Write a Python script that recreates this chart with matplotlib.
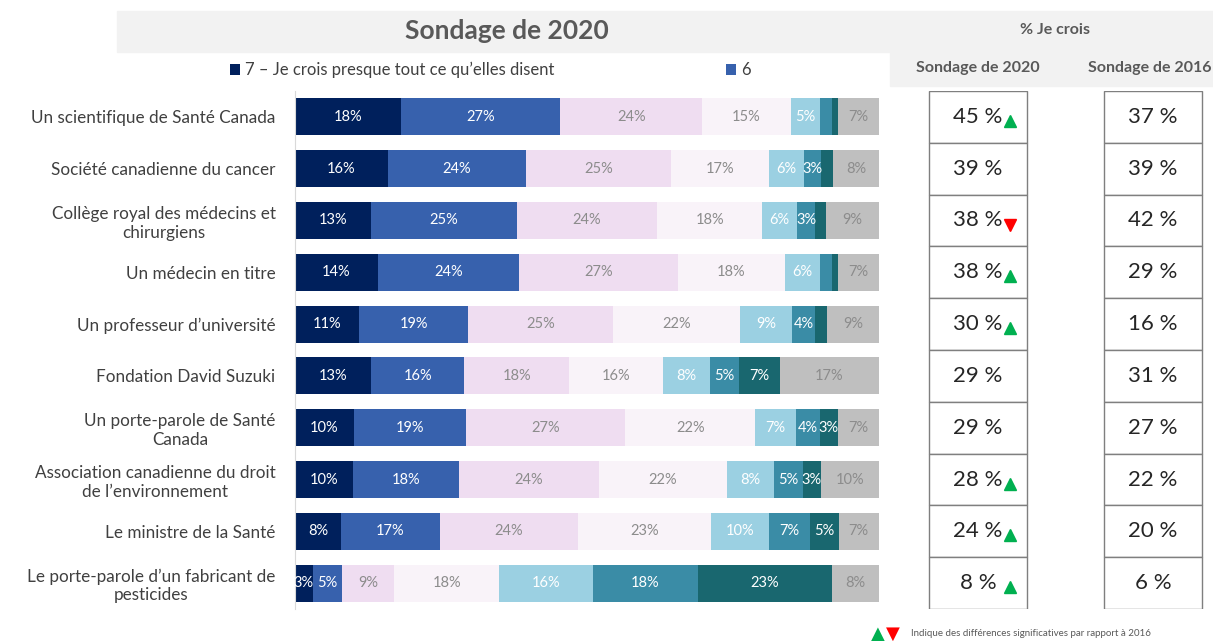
import numpy as np
import matplotlib
matplotlib.use('Agg')
import matplotlib.pyplot as plt
from matplotlib.patches import Rectangle

plt.rcParams['font.family'] = ['Lato', 'DejaVu Sans']

# données
categories = [
    'Un scientifique de Santé Canada',
    'Société canadienne du cancer',
    'Collège royal des médecins et\nchirurgiens',
    'Un médecin en titre',
    'Un professeur d\u2019université',
    'Fondation David Suzuki',
    'Un porte-parole de Santé\nCanada',
    'Association canadienne du droit\nde l\u2019environnement',
    'Le ministre de la Santé',
    'Le porte-parole d\u2019un fabricant de\npesticides',
]
series_names = ['7 \u2013 Je crois presque tout ce qu\u2019elles disent', '6', '5', '4', '3', '2',
                '1', 'Ne sait pas']
s7 = [18, 16, 13, 14, 11, 13, 10, 10, 8, 3]
s6 = [27, 24, 25, 24, 19, 16, 19, 18, 17, 5]
s5 = [24, 25, 24, 27, 25, 18, 27, 24, 24, 9]
s4 = [15, 17, 18, 18, 22, 16, 22, 22, 23, 18]
s3 = [5, 6, 6, 6, 9, 8, 7, 8, 10, 16]
s2 = [2, 3, 3, 2, 4, 5, 4, 5, 7, 18]
s1 = [1, 2, 2, 1, 2, 7, 3, 3, 5, 23]
nsp = [7, 8, 9, 7, 9, 17, 7, 10, 7, 8]

je_crois_2020 = [45, 39, 38, 38, 30, 29, 29, 28, 24, 8]
je_crois_2016 = [37, 39, 42, 29, 16, 31, 27, 22, 20, 6]
signif = ['up', '', 'down', 'up', 'up', '', '', 'up', 'up', 'up']

colors = ['#00205c', '#3761ad', '#efddf1', '#f9f3f9', '#9bd0e2', '#3a8ca6', '#19676f', '#bfbfbf']
text_colors = ['white', 'white', '#8c8c8c', '#8c8c8c', 'white', 'white', 'white', '#8c8c8c']

W, H = 1213, 641
fig = plt.figure(figsize=(W / 100, H / 100), dpi=100)

# bandeaux gris d'en-tête
fig.patches.append(Rectangle((117 / W, 1 - 52 / H), (W - 117) / W, 41 / H,
                             transform=fig.transFigure, color='#f2f2f2', zorder=0))
fig.patches.append(Rectangle((890 / W, 1 - 86 / H), (W - 890) / W, 35 / H,
                             transform=fig.transFigure, color='#f2f2f2', zorder=0))

top, bot = 91, 609
ax = fig.add_axes([295 / W, 1 - bot / H, 584 / W, (bot - top) / H])
data = np.array([s7, s6, s5, s4, s3, s2, s1, nsp], dtype=float)
totals = data.sum(axis=0)
y = np.arange(len(categories))
left = np.zeros(len(categories))
handles = []
for k in range(len(data)):
    widths = data[k] / totals * 100
    bars = ax.barh(y, widths, left=left, height=0.715, color=colors[k], label=series_names[k])
    handles.append(bars)
    for i, b in enumerate(bars):
        if data[k][i] >= 3:
            ax.text(left[i] + widths[i] / 2, y[i], f'{int(data[k][i])}%', ha='center', va='center',
                    fontsize=10.5, color=text_colors[k])
    left += widths

ax.set_xlim(0, 100)
ax.set_ylim(len(categories) - 0.5, -0.5)
ax.set_yticks(y)
ax.set_yticklabels(categories, fontsize=12.3, color='#404040')
for lab in ax.get_yticklabels():
    lab.set_multialignment('center')
ax.tick_params(axis='y', length=0, pad=14)
ax.set_xticks([])
for sp in ['top', 'right', 'bottom']:
    ax.spines[sp].set_visible(False)
ax.spines['left'].set_color('#d9d9d9')

fig.text(507 / W, 1 - 31 / H, 'Sondage de 2020', ha='center', va='center', fontsize=19,
         fontweight='bold', color='#595959')

fig.legend(handles[:2], series_names[:2], loc='center left', bbox_to_anchor=(215 / W, 1 - 70 / H),
           ncol=2, frameon=False, fontsize=12, handlelength=0.6, handleheight=0.6,
           handletextpad=0.3, columnspacing=10.3, labelcolor='#404040')

# tableau % Je crois
tx = fig.add_axes([890 / W, 1 - bot / H, (W - 890) / W, (bot - top) / H])
tx.set_xlim(0, 1)
tx.set_ylim(len(categories) - 0.5, -0.5)
tx.axis('off')
c20, c16, bw = (978 - 890) / 323, (1153 - 890) / 323, 98 / 323
for i in range(len(categories)):
    for cx in (c20, c16):
        tx.add_patch(Rectangle((cx - bw / 2, i - 0.5), bw, 1, facecolor='white',
                               edgecolor='#7f7f7f', lw=1))
    tx.text(c20, i, f'{je_crois_2020[i]} %', ha='center', va='center', fontsize=16, color='#262626')
    tx.text(c16, i, f'{je_crois_2016[i]} %', ha='center', va='center', fontsize=16, color='#262626')
    if signif[i] == 'up':
        tx.plot(c20 + 0.1, i + 0.08, marker='^', color='#00b050', ms=8, ls='none')
    elif signif[i] == 'down':
        tx.plot(c20 + 0.1, i + 0.08, marker='v', color='#ff0000', ms=8, ls='none')

fig.text(1055 / W, 1 - 30 / H, '% Je crois', ha='center', va='center', fontsize=11.5,
         fontweight='bold', color='#595959')
fig.text(978 / W, 1 - 68 / H, 'Sondage de 2020', ha='center', va='center', fontsize=11.5,
         fontweight='bold', color='#595959')
fig.text(1088 / W, 1 - 68 / H, 'Sondage de 2016', ha='left', va='center', fontsize=11.5,
         fontweight='bold', color='#595959')

# note
fig.text(878 / W, 1 - 634 / H, '\u25b2', ha='center', va='center', fontsize=13, color='#00b050',
         family=['DejaVu Sans'])
fig.text(893 / W, 1 - 634 / H, '\u25bc', ha='center', va='center', fontsize=13, color='#ff0000',
         family=['DejaVu Sans'])
fig.text(911 / W, 1 - 634 / H, 'Indique des différences significatives par rapport à 2016',
         ha='left', va='center', fontsize=7, color='#595959')

fig.savefig('out.png', dpi=100)
